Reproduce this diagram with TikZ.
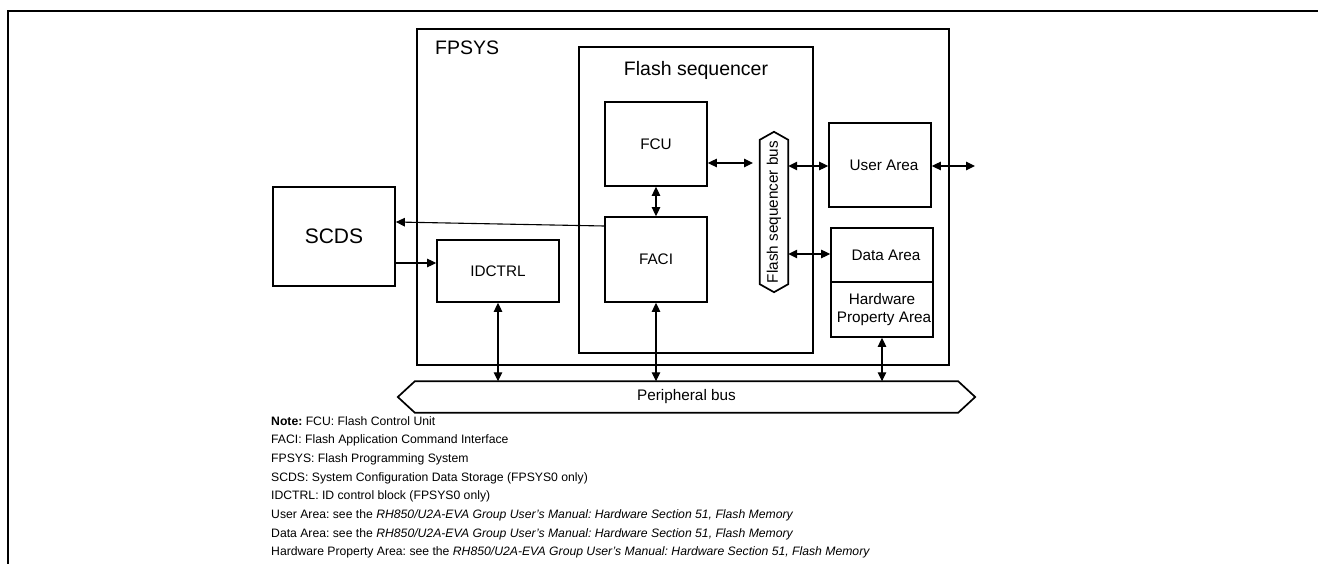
\documentclass[tikz,border=0pt]{standalone}
\usepackage{fontspec}
\setmainfont{Liberation Sans}
\usetikzlibrary{arrows.meta,calc}
\newcommand{\lblfont}{\fontsize{15.3}{17.5}\selectfont}
\newcommand{\bigfont}{\fontsize{19.5}{22}\selectfont}
\newcommand{\notefont}{\fontsize{12.2}{18.7}\selectfont}
\frenchspacing
\begin{document}
\begin{tikzpicture}[x=1pt,y=-1pt,
  blk/.style={draw, line width=1.7pt, inner sep=0pt, font=\lblfont, align=center},
  biarr/.style={line width=1.1pt, {Triangle[length=9pt,width=8.5pt]}-{Triangle[length=9pt,width=8.5pt]}},
  onearr/.style={line width=1.1pt, -{Triangle[length=9pt,width=8.5pt]}},
  busline/.style={line width=1.7pt, line join=miter}]
\useasboundingbox (0,0) rectangle (1318,564);
% outer frame
\draw[line width=2.5pt] (8,564) -- (8,11) -- (1318,11);
% FPSYS
\node[blk, minimum width=532pt, minimum height=336pt] (fpsys) at (683,197) {};
\node[anchor=west, font=\bigfont, inner sep=0pt] (fpsyslbl) at (435,48) {FPSYS};
% Flash sequencer
\node[blk, minimum width=234pt, minimum height=306pt] (fseq) at (696,200) {};
\node[font=\bigfont, inner sep=0pt] (fseqlbl) at (696,70) {Flash sequencer};
% inner blocks
\node[blk, minimum width=102pt, minimum height=84pt] (fcu) at (656,144) {FCU};
\node[blk, minimum width=102pt, minimum height=85pt] (faci) at (656,259.5) {FACI};
\node[blk, minimum width=122pt, minimum height=99pt, font=\fontsize{21}{24}\selectfont] (scds) at (334,236.5) {SCDS};
\node[blk, minimum width=122pt, minimum height=62pt] (idctrl) at (498,271) {IDCTRL};
\node[blk, minimum width=102pt, minimum height=84pt] (user) at (880,165) {\hspace*{8pt}User Area};
\node[blk, minimum width=102pt, minimum height=54pt] (data) at (882,255) {\hspace*{8pt}Data Area};
\node[blk, minimum width=102pt, minimum height=55pt] (hpa) at (882,309.5) {Hardware\\\hspace*{4pt}Property Area};
% flash sequencer bus
\node[minimum width=28pt, minimum height=144pt, inner sep=0pt] (fsb) at (774,212) {};
\draw[busline] (fsb.north west) -- ($(fsb.north)+(0,-8)$) -- (fsb.north east) -- (fsb.south east) -- ($(fsb.south)+(0,8)$) -- (fsb.south west) -- cycle;
\node[rotate=90, font=\lblfont, inner sep=0pt] (fsbt) at (fsb.center) {Flash sequencer bus};
% peripheral bus
\node[minimum width=543pt, minimum height=31pt, inner sep=0pt, font=\lblfont] (pbus) at (686.5,397) {Peripheral bus};
\draw[busline] (pbus.north west) -- (pbus.north east) -- ($(pbus.east)+(17,0)$) -- (pbus.south east) -- (pbus.south west) -- ($(pbus.west)+(-17,0)$) -- cycle;
% helper coordinates
\coordinate (a1) at (753,163);
\coordinate (a2) at (0,166);
\coordinate (a3) at (975,166);
\coordinate (a4) at (0,254);
\coordinate (a5) at (0,226);
\coordinate (a6) at (0,222);
\coordinate (a7) at (0,263);
% connectors
\draw[biarr] (fcu.east |- a1) -- (a1);
\draw[biarr] (fsb.east |- a2) -- (user.west |- a2);
\draw[biarr] (user.east |- a3) -- (a3);
\draw[biarr] (fsb.east |- a4) -- (data.west |- a4);
\draw[biarr] (fcu.south) -- (faci.north);
\draw[onearr] (faci.west |- a5) -- (scds.east |- a6);
\draw[onearr] (scds.east |- a7) -- (idctrl.west |- a7);
\draw[biarr] (idctrl.south) -- (idctrl.south |- pbus.north);
\draw[biarr] (faci.south) -- (faci.south |- pbus.north);
\draw[biarr] (hpa.south) -- (hpa.south |- pbus.north);
% notes
\node[anchor=north west, inner sep=0pt, align=left, font=\notefont] (notes) at (271,416) {%
\textbf{Note:} FCU: Flash Control Unit\\
FACI: Flash Application Command Interface\\
FPSYS: Flash Programming System\\
SCDS: System Configuration Data Storage (FPSYS0 only)\\
IDCTRL: ID control block (FPSYS0 only)\\
User Area: see the \textit{RH850/U2A-EVA Group User's Manual: Hardware Section 51, Flash Memory}\\
Data Area: see the \textit{RH850/U2A-EVA Group User's Manual: Hardware Section 51, Flash Memory}\\
Hardware Property Area: see the \textit{RH850/U2A-EVA Group User's Manual: Hardware Section 51, Flash Memory}};
\end{tikzpicture}
\end{document}
